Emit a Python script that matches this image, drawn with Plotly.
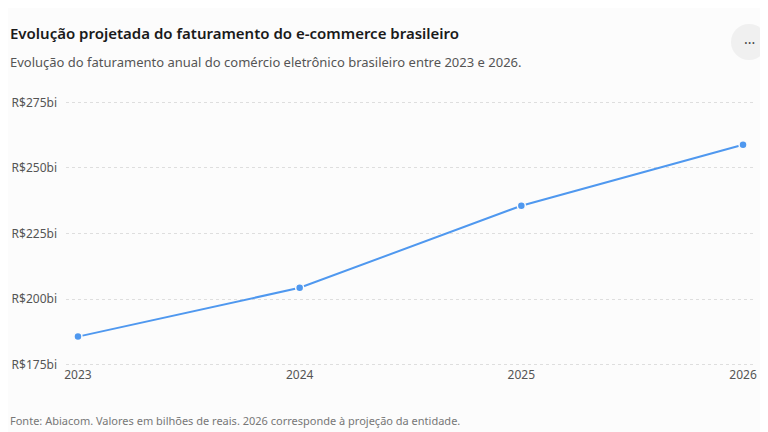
import plotly.graph_objects as go

# Faturamento anual do e-commerce brasileiro (R$ bilhões)
anos = [2023, 2024, 2025, 2026]
faturamento = [185.7, 204.3, 235.6, 258.8]

y_ticks = [175, 200, 225, 250, 275]
y_tick_labels = ["R$175bi", "R$200bi", "R$225bi", "R$250bi", "R$275bi"]
x_tick_labels = ["2023", "2024", "2025", "2026"]

FONT = "Noto Sans, Open Sans, sans-serif"
# page body has an 8px margin, so the figure is drawn 8px in from the corner
OFF = 8
W, H = 768 - OFF, 432 - OFF
ML, MR, MT, MB = 66 - OFF, 15, 101 - OFF, 66
PW = W - ML - MR
PH = H - MT - MB


def px_x(px):
    # page pixel -> paper x
    return (px - OFF - ML) / PW


def px_y(py):
    # page pixel -> paper y
    return (H - MB - (py - OFF)) / PH


fig = go.Figure()

fig.add_trace(go.Scatter(
    x=anos,
    y=faturamento,
    mode="lines+markers",
    line=dict(color="#4f98ef", width=2),
    marker=dict(size=8, color="#4f98ef", line=dict(color="#fcfcfc", width=1.5)),
    hovertemplate="%{x}: R$%{y}bi<extra></extra>",
    showlegend=False,
))

fig.update_layout(
    width=W,
    height=H,
    margin=dict(l=ML, r=MR, t=MT, b=MB, autoexpand=False),
    paper_bgcolor="#fcfcfc",
    plot_bgcolor="#fcfcfc",
    font=dict(family=FONT, size=12, color="#555555"),
    xaxis=dict(
        range=[2022.946, 2026.045],
        tickvals=anos,
        ticktext=x_tick_labels,
        showgrid=False,
        zeroline=False,
        showline=False,
        ticks="",
        automargin=False,
        tickfont=dict(size=12, color="#555555"),
    ),
    yaxis=dict(
        range=[174.5, 275.5],
        tickvals=y_ticks,
        ticktext=y_tick_labels,
        showgrid=True,
        gridcolor="#dedede",
        griddash="3px,3px",
        gridwidth=1,
        zeroline=False,
        showline=False,
        ticks="",
        automargin=False,
        ticklabelstandoff=8,
        tickfont=dict(size=12, color="#555555"),
    ),
    annotations=[
        dict(text="Evolução projetada do faturamento do e-commerce brasileiro",
             xref="paper", yref="paper", x=px_x(OFF), y=px_y(33),
             xanchor="left", yanchor="middle", showarrow=False,
             font=dict(family=FONT, size=15, color="#1a1a1a", weight=600)),
        dict(text="Evolução do faturamento anual do comércio eletrônico brasileiro entre 2023 e 2026.",
             xref="paper", yref="paper", x=px_x(OFF), y=px_y(62),
             xanchor="left", yanchor="middle", showarrow=False,
             font=dict(family=FONT, size=13, color="#555555")),
        dict(text="Fonte: Abiacom. Valores em bilhões de reais. 2026 corresponde à projeção da entidade.",
             xref="paper", yref="paper", x=px_x(OFF), y=px_y(420),
             xanchor="left", yanchor="middle", showarrow=False,
             font=dict(family=FONT, size=11, color="#777777")),
        dict(text="···",
             xref="paper", yref="paper", x=px_x(749), y=px_y(42),
             xanchor="center", yanchor="middle", showarrow=False,
             font=dict(family=FONT, size=14, color="#444444")),
    ],
    shapes=[
        dict(type="circle", xref="paper", yref="paper",
             x0=px_x(731), x1=px_x(767), y0=px_y(60), y1=px_y(24),
             fillcolor="#f0f0f0", line=dict(width=0), layer="below"),
    ],
)

fig.write_html("out.html")
